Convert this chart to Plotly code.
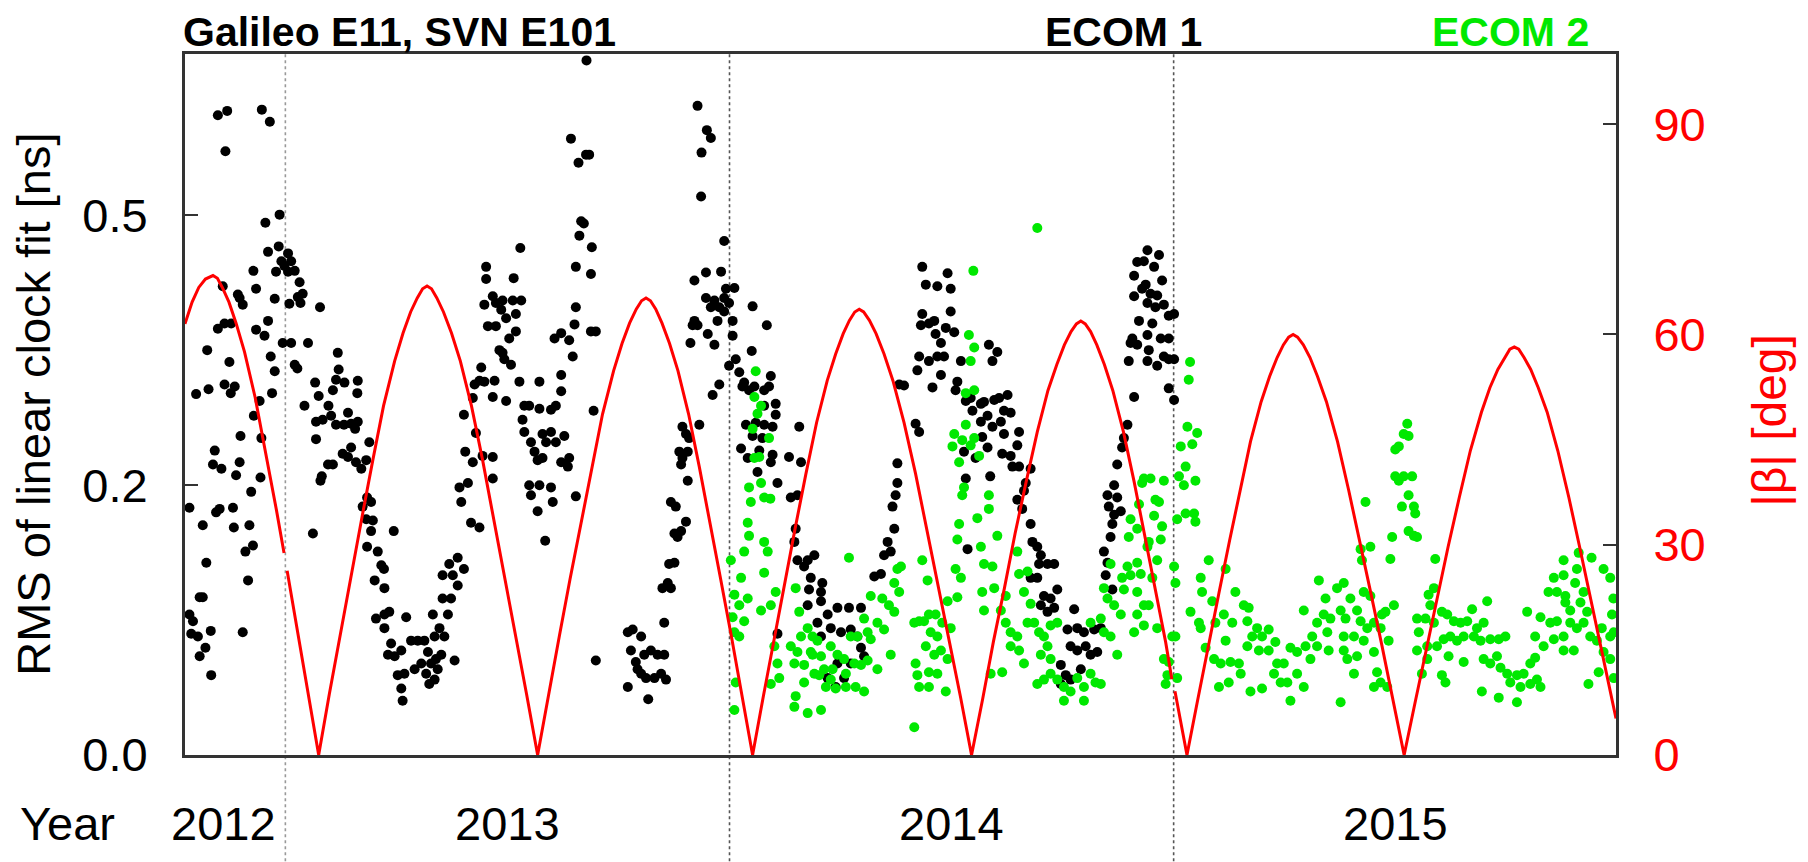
import plotly.graph_objects as go

# RMS of linear clock fit [ns] per day, ECOM 1 (black)
ecom1_pts = [
    (2012.848, 0.646), (2012.869, 0.653), (2012.865, 0.591), (2012.947, 0.655), (2012.965, 0.636),
    (2012.987, 0.501), (2012.955, 0.490), (2012.961, 0.452), (2012.985, 0.459), (2013.006, 0.450),
    (2012.991, 0.440), (2012.998, 0.434), (2013.013, 0.440), (2013.021, 0.428), (2013.006, 0.427),
    (2012.979, 0.427), (2012.928, 0.428), (2012.859, 0.409), (2012.934, 0.406), (2013.032, 0.414),
    (2013.039, 0.400), (2013.028, 0.396), (2013.034, 0.389), (2013.009, 0.388), (2012.893, 0.399),
    (2012.904, 0.387), (2012.897, 0.395), (2012.976, 0.394), (2013.078, 0.384), (2012.848, 0.359),
    (2012.863, 0.365), (2012.878, 0.365), (2012.934, 0.358), (2012.961, 0.368), (2012.953, 0.351),
    (2012.994, 0.343), (2013.013, 0.343), (2013.051, 0.343), (2012.824, 0.335), (2012.874, 0.322),
    (2012.967, 0.328), (2013.021, 0.319), (2013.027, 0.315), (2012.976, 0.312), (2012.799, 0.288),
    (2012.827, 0.293), (2012.863, 0.298), (2012.886, 0.296), (2012.877, 0.289), (2012.970, 0.289),
    (2012.942, 0.281), (2013.043, 0.276), (2013.067, 0.300), (2013.075, 0.286), (2013.118, 0.332),
    (2013.120, 0.314), (2013.114, 0.303), (2013.133, 0.300), (2013.107, 0.292), (2013.163, 0.302),
    (2013.162, 0.289), (2012.929, 0.266), (2013.097, 0.276), (2013.069, 0.260), (2013.084, 0.262),
    (2013.103, 0.266), (2013.114, 0.257), (2013.132, 0.257), (2013.148, 0.258), (2013.141, 0.269),
    (2013.163, 0.260), (2013.157, 0.253), (2013.069, 0.243), (2012.946, 0.244), (2012.899, 0.246),
    (2012.841, 0.232), (2012.837, 0.219), (2012.856, 0.215), (2012.897, 0.221), (2012.889, 0.209),
    (2012.944, 0.207), (2012.923, 0.194), (2013.082, 0.208), (2013.079, 0.204), (2013.096, 0.219),
    (2013.107, 0.219), (2013.148, 0.235), (2013.129, 0.229), (2013.141, 0.226), (2013.159, 0.221),
    (2013.171, 0.215), (2013.182, 0.223), (2013.189, 0.240), (2012.784, 0.180), (2012.844, 0.176),
    (2012.852, 0.179), (2012.882, 0.180), (2012.814, 0.165), (2012.884, 0.163), (2012.919, 0.165),
    (2012.910, 0.143), (2012.927, 0.148), (2012.822, 0.134), (2012.916, 0.120), (2013.062, 0.158),
    (2013.184, 0.189), (2013.174, 0.181), (2013.193, 0.185), (2013.182, 0.170), (2013.197, 0.169),
    (2013.193, 0.160), (2013.184, 0.147), (2013.208, 0.143), (2013.216, 0.132), (2013.222, 0.129),
    (2013.244, 0.160), (2013.201, 0.120), (2013.223, 0.114), (2012.807, 0.107), (2012.814, 0.107),
    (2012.784, 0.094), (2012.792, 0.089), (2012.788, 0.080), (2012.803, 0.078), (2012.820, 0.070),
    (2012.807, 0.064), (2012.832, 0.082), (2012.904, 0.081), (2012.833, 0.051), (2013.204, 0.091),
    (2013.223, 0.094), (2013.234, 0.096), (2013.223, 0.084), (2013.272, 0.092), (2013.238, 0.073),
    (2013.231, 0.065), (2013.246, 0.064), (2013.261, 0.068), (2013.283, 0.075), (2013.298, 0.075),
    (2013.253, 0.051), (2013.268, 0.052), (2013.291, 0.055), (2013.306, 0.059), (2013.261, 0.042),
    (2013.264, 0.034),
    (2013.313, 0.075), (2013.321, 0.067), (2013.328, 0.059), (2013.339, 0.062), (2013.317, 0.052),
    (2013.336, 0.048), (2013.324, 0.045), (2013.343, 0.055), (2013.351, 0.065), (2013.381, 0.061),
    (2013.332, 0.094), (2013.354, 0.106), (2013.373, 0.106), (2013.366, 0.094), (2013.347, 0.084),
    (2013.358, 0.078), (2013.336, 0.078), (2013.354, 0.124), (2013.369, 0.133), (2013.388, 0.138),
    (2013.402, 0.129), (2013.388, 0.116), (2013.377, 0.124), (2013.396, 0.185), (2013.392, 0.198),
    (2013.411, 0.202), (2013.418, 0.167), (2013.437, 0.163), (2013.405, 0.231), (2013.422, 0.221),
    (2013.444, 0.227), (2013.467, 0.226), (2013.467, 0.206), (2013.402, 0.267), (2013.429, 0.249),
    (2013.422, 0.284), (2013.426, 0.298), (2013.437, 0.302), (2013.448, 0.301), (2013.471, 0.302),
    (2013.467, 0.285), (2013.497, 0.281), (2013.441, 0.316), (2013.456, 0.362), (2013.474, 0.362),
    (2013.482, 0.335), (2013.493, 0.325), (2013.508, 0.319), (2013.489, 0.332), (2013.504, 0.348),
    (2013.519, 0.356), (2013.448, 0.387), (2013.467, 0.397), (2013.474, 0.389), (2013.486, 0.381),
    (2013.497, 0.371), (2013.512, 0.392), (2013.531, 0.392), (2013.519, 0.376), (2013.489, 0.392),
    (2013.452, 0.433), (2013.452, 0.418), (2013.514, 0.419), (2013.529, 0.457), (2013.527, 0.301),
    (2013.572, 0.301), (2013.538, 0.276), (2013.549, 0.276), (2013.572, 0.273), (2013.598, 0.272),
    (2013.609, 0.276), (2013.621, 0.291), (2013.621, 0.308), (2013.606, 0.348), (2013.621, 0.354),
    (2013.639, 0.346), (2013.534, 0.262), (2013.538, 0.250), (2013.553, 0.240), (2013.561, 0.231),
    (2013.579, 0.248), (2013.587, 0.240), (2013.598, 0.250), (2013.609, 0.240), (2013.628, 0.246),
    (2013.621, 0.221), (2013.636, 0.217), (2013.639, 0.225), (2013.568, 0.223), (2013.579, 0.225),
    (2013.549, 0.200), (2013.553, 0.191), (2013.572, 0.200), (2013.598, 0.198), (2013.602, 0.185),
    (2013.568, 0.177), (2013.654, 0.190), (2013.585, 0.152), (2013.647, 0.328), (2013.654, 0.384),
    (2013.651, 0.364), (2013.654, 0.433), (2013.688, 0.424), (2013.690, 0.458), (2013.662, 0.473),
    (2013.666, 0.492), (2013.672, 0.489), (2013.643, 0.610), (2013.677, 0.586), (2013.684, 0.586),
    (2013.660, 0.574), (2013.678, 0.736), (2013.688, 0.356), (2013.699, 0.356), (2013.694, 0.271),
    (2013.699, 0.061), (2013.771, 0.081), (2013.782, 0.083), (2013.801, 0.078), (2013.778, 0.068),
    (2013.789, 0.060), (2013.808, 0.065), (2013.823, 0.068), (2013.838, 0.065), (2013.771, 0.043),
    (2013.801, 0.052), (2013.812, 0.049), (2013.831, 0.049), (2013.846, 0.052), (2013.817, 0.035),
    (2013.793, 0.055), (2013.849, 0.114),
    (2013.853, 0.088), (2013.853, 0.065), (2013.857, 0.048), (2013.861, 0.118), (2013.868, 0.114),
    (2013.864, 0.133), (2013.876, 0.134), (2013.883, 0.155), (2013.876, 0.158), (2013.891, 0.160),
    (2013.902, 0.168), (2013.868, 0.185), (2013.879, 0.181), (2013.887, 0.231), (2013.894, 0.225),
    (2013.906, 0.231), (2013.891, 0.219), (2013.906, 0.204), (2013.894, 0.255), (2013.902, 0.248),
    (2013.909, 0.244), (2013.932, 0.257), (2013.962, 0.287), (2013.977, 0.298), (2013.912, 0.343),
    (2013.921, 0.368), (2013.928, 0.363), (2013.917, 0.363), (2013.951, 0.353), (2013.966, 0.341),
    (2013.973, 0.368), (2013.958, 0.384), (2013.977, 0.384), (2013.988, 0.379), (2013.999, 0.389),
    (2014.007, 0.368), (2014.007, 0.351), (2013.921, 0.416), (2013.947, 0.426), (2013.981, 0.427),
    (2013.992, 0.406), (2014.011, 0.407), (2013.947, 0.395), (2013.966, 0.392), (2013.988, 0.395),
    (2013.988, 0.466), (2013.928, 0.661), (2013.949, 0.623), (2013.958, 0.611), (2013.937, 0.589),
    (2013.936, 0.526), (2014.052, 0.385), (2014.084, 0.363), (2014.050, 0.334), (2013.999, 0.318),
    (2014.014, 0.325), (2014.022, 0.311), (2014.029, 0.296), (2014.033, 0.300), (2014.044, 0.292),
    (2014.056, 0.296), (2014.078, 0.292), (2014.089, 0.296), (2014.093, 0.307), (2014.104, 0.278),
    (2014.104, 0.267), (2014.078, 0.276), (2014.037, 0.257), (2014.059, 0.259), (2014.078, 0.257),
    (2014.097, 0.255), (2014.052, 0.246), (2014.074, 0.244), (2014.026, 0.234), (2014.041, 0.225),
    (2014.067, 0.232), (2014.097, 0.228), (2014.093, 0.221), (2014.063, 0.212), (2014.108, 0.202),
    (2014.134, 0.226), (2014.157, 0.255), (2014.161, 0.221), (2014.138, 0.189), (2014.153, 0.191),
    (2014.149, 0.162), (2014.146, 0.151), (2014.153, 0.136), (2014.176, 0.136), (2014.191, 0.140),
    (2014.168, 0.131), (2014.183, 0.122), (2014.209, 0.118), (2014.206, 0.111), (2014.179, 0.113),
    (2014.176, 0.101), (2014.206, 0.104), (2014.221, 0.094), (2014.198, 0.088), (2014.206, 0.078),
    (2014.243, 0.099), (2014.269, 0.099), (2014.296, 0.099), (2014.228, 0.084), (2014.251, 0.081),
    (2014.273, 0.083), (2014.288, 0.078), (2014.296, 0.070), (2014.303, 0.064), (2014.273, 0.059),
    (2014.243, 0.059), (2014.221, 0.049), (2014.239, 0.043), (2014.258, 0.049), (2014.108, 0.080),
    (2014.326, 0.123), (2014.341, 0.125), (2014.348, 0.140), (2014.363, 0.143), (2014.356, 0.151),
    (2014.371, 0.162), (2014.367, 0.181), (2014.374, 0.191), (2014.378, 0.202), (2014.378, 0.220),
    (2014.382, 0.298),
    (2014.393, 0.297), (2014.434, 0.433), (2014.442, 0.411), (2014.468, 0.409), (2014.491, 0.425),
    (2014.498, 0.406), (2014.498, 0.379), (2014.434, 0.376), (2014.431, 0.363), (2014.449, 0.365),
    (2014.461, 0.368), (2014.464, 0.353), (2014.476, 0.343), (2014.487, 0.360), (2014.506, 0.355),
    (2014.427, 0.328), (2014.449, 0.323), (2014.468, 0.328), (2014.483, 0.328), (2014.423, 0.313),
    (2014.457, 0.295), (2014.476, 0.308), (2014.513, 0.301), (2014.509, 0.292), (2014.521, 0.323),
    (2014.419, 0.258), (2014.427, 0.250), (2014.584, 0.341), (2014.603, 0.333), (2014.592, 0.323),
    (2014.532, 0.281), (2014.543, 0.284), (2014.566, 0.278), (2014.573, 0.280), (2014.547, 0.271),
    (2014.581, 0.266), (2014.596, 0.282), (2014.607, 0.284), (2014.626, 0.287), (2014.618, 0.271),
    (2014.633, 0.269), (2014.566, 0.260), (2014.592, 0.255), (2014.611, 0.260), (2014.618, 0.248),
    (2014.652, 0.250), (2014.569, 0.245), (2014.581, 0.235), (2014.554, 0.225), (2014.528, 0.231),
    (2014.614, 0.229), (2014.633, 0.227), (2014.648, 0.237), (2014.652, 0.217), (2014.637, 0.217),
    (2014.678, 0.215), (2014.667, 0.202), (2014.532, 0.206), (2014.587, 0.208), (2014.648, 0.187),
    (2014.663, 0.195), (2014.659, 0.179), (2014.536, 0.145), (2014.678, 0.166), (2014.682, 0.151),
    (2014.693, 0.147), (2014.701, 0.140), (2014.697, 0.133), (2014.716, 0.133), (2014.731, 0.133),
    (2014.678, 0.122), (2014.693, 0.122), (2014.708, 0.108), (2014.723, 0.106), (2014.738, 0.113),
    (2014.701, 0.101), (2014.716, 0.096), (2014.731, 0.099), (2014.776, 0.098), (2014.761, 0.083),
    (2014.783, 0.084), (2014.798, 0.081), (2014.821, 0.083), (2014.836, 0.084), (2014.768, 0.071),
    (2014.783, 0.068), (2014.802, 0.071), (2014.813, 0.065), (2014.828, 0.067), (2014.746, 0.058),
    (2014.757, 0.051), (2014.791, 0.055), (2014.746, 0.045), (2014.768, 0.048), (2014.843, 0.143),
    (2014.851, 0.134), (2014.858, 0.155), (2014.862, 0.166), (2014.866, 0.174), (2014.854, 0.181),
    (2014.866, 0.200), (2014.873, 0.189), (2014.881, 0.177), (2014.851, 0.191), (2014.873, 0.219),
    (2014.884, 0.235), (2014.888, 0.244), (2014.896, 0.257), (2014.847, 0.124), (2014.862, 0.113),
    (2014.911, 0.285), (2014.899, 0.323), (2014.903, 0.343), (2014.918, 0.341), (2014.907, 0.348),
    (2014.922, 0.368), (2014.911, 0.397), (2014.911, 0.422), (2014.929, 0.406), (2014.918, 0.439),
    (2014.941, 0.454), (2014.967, 0.448), (2014.933, 0.440), (2014.956, 0.433), (2014.974, 0.416),
    (2014.937, 0.411), (2014.948, 0.400), (2014.963, 0.398), (2014.941, 0.389), (2014.959, 0.384),
    (2014.978, 0.387), (2014.989, 0.374), (2015.001, 0.376), (2014.952, 0.365), (2014.941, 0.352),
    (2014.971, 0.348), (2014.989, 0.348), (2014.944, 0.335), (2014.978, 0.328), (2014.989, 0.325),
    (2015.001, 0.325), (2014.941, 0.323), (2014.963, 0.318), (2014.989, 0.294), (2015.001, 0.282),
]

# ECOM 2 (green)
ecom2_pts = [
    (2014.059, 0.312), (2014.056, 0.285), (2014.063, 0.268), (2014.052, 0.253), (2014.071, 0.276),
    (2014.089, 0.244), (2014.056, 0.225), (2014.067, 0.226), (2014.044, 0.198), (2014.048, 0.185),
    (2014.071, 0.202), (2014.078, 0.189), (2014.092, 0.188), (2014.041, 0.167), (2014.044, 0.156),
    (2014.033, 0.143), (2014.078, 0.151), (2014.086, 0.143), (2014.078, 0.126), (2014.003, 0.136),
    (2014.026, 0.122), (2014.011, 0.109), (2014.022, 0.101), (2014.041, 0.106), (2014.007, 0.092),
    (2014.033, 0.089), (2014.011, 0.081), (2014.022, 0.078), (2014.104, 0.111), (2014.093, 0.101),
    (2014.071, 0.097), (2014.014, 0.046), (2014.011, 0.028), (2014.101, 0.071), (2014.108, 0.059),
    (2014.112, 0.049), (2014.093, 0.045), (2014.149, 0.114), (2014.157, 0.096), (2014.138, 0.071),
    (2014.153, 0.067), (2014.146, 0.059), (2014.161, 0.078), (2014.176, 0.084), (2014.187, 0.078),
    (2014.168, 0.058), (2014.187, 0.065), (2014.198, 0.075), (2014.206, 0.064), (2014.213, 0.055),
    (2014.228, 0.071), (2014.243, 0.065), (2014.258, 0.062), (2014.232, 0.055), (2014.262, 0.052),
    (2014.273, 0.078), (2014.288, 0.078), (2014.281, 0.059), (2014.296, 0.058), (2014.311, 0.061),
    (2014.303, 0.040), (2014.284, 0.043), (2014.262, 0.043), (2014.239, 0.042), (2014.217, 0.043),
    (2014.202, 0.051), (2014.168, 0.046), (2014.149, 0.037), (2014.146, 0.030), (2014.176, 0.026),
    (2014.206, 0.028), (2014.333, 0.055), (2014.318, 0.076), (2014.333, 0.088), (2014.311, 0.081),
    (2014.303, 0.091), (2014.318, 0.108), (2014.344, 0.106), (2014.359, 0.101), (2014.371, 0.096),
    (2014.382, 0.111), (2014.371, 0.118), (2014.378, 0.129), (2014.386, 0.131), (2014.363, 0.065),
    (2014.348, 0.083), (2014.269, 0.138), (2014.183, 0.067), (2014.191, 0.052), (2014.228, 0.048),
    (2014.693, 0.483), (2014.549, 0.428), (2014.539, 0.352), (2014.551, 0.338), (2014.543, 0.323),
    (2014.532, 0.289), (2014.551, 0.292), (2014.532, 0.257), (2014.506, 0.248), (2014.502, 0.236),
    (2014.524, 0.242), (2014.543, 0.237), (2014.562, 0.227), (2014.517, 0.221), (2014.551, 0.244),
    (2014.528, 0.198), (2014.524, 0.191), (2014.584, 0.191), (2014.558, 0.171), (2014.584, 0.179),
    (2014.517, 0.166), (2014.513, 0.153), (2014.566, 0.147), (2014.603, 0.156), (2014.434, 0.136),
    (2014.446, 0.120), (2014.509, 0.129), (2014.521, 0.122), (2014.491, 0.104), (2014.513, 0.107),
    (2014.573, 0.133), (2014.592, 0.131), (2014.569, 0.111), (2014.573, 0.097), (2014.596, 0.114),
    (2014.622, 0.108), (2014.611, 0.097), (2014.648, 0.143), (2014.652, 0.125), (2014.671, 0.127),
    (2014.663, 0.111), (2014.678, 0.102), (2014.416, 0.088), (2014.427, 0.089), (2014.438, 0.089),
    (2014.449, 0.094), (2014.464, 0.094), (2014.479, 0.088), (2014.498, 0.084), (2014.453, 0.081),
    (2014.468, 0.078), (2014.442, 0.071), (2014.461, 0.065), (2014.476, 0.068), (2014.491, 0.062),
    (2014.449, 0.053), (2014.468, 0.052), (2014.423, 0.051), (2014.427, 0.043), (2014.449, 0.043),
    (2014.487, 0.040), (2014.419, 0.059), (2014.416, 0.017), (2014.588, 0.052), (2014.614, 0.053),
    (2014.622, 0.088), (2014.633, 0.081), (2014.648, 0.078), (2014.633, 0.071), (2014.652, 0.068),
    (2014.663, 0.059), (2014.671, 0.088), (2014.686, 0.088), (2014.697, 0.081), (2014.708, 0.078),
    (2014.723, 0.086), (2014.738, 0.088), (2014.716, 0.071), (2014.701, 0.065), (2014.723, 0.062),
    (2014.693, 0.045), (2014.708, 0.048), (2014.723, 0.052), (2014.738, 0.048), (2014.753, 0.043),
    (2014.768, 0.040), (2014.783, 0.049), (2014.798, 0.043), (2014.813, 0.052), (2014.824, 0.046),
    (2014.836, 0.045), (2014.753, 0.034), (2014.798, 0.034), (2014.813, 0.088), (2014.836, 0.091),
    (2014.843, 0.081), (2014.858, 0.078), (2014.873, 0.065), (2014.843, 0.114), (2014.851, 0.106),
    (2014.866, 0.101), (2014.881, 0.094), (2014.888, 0.113), (2014.918, 0.111), (2014.911, 0.081),
    (2014.918, 0.094), (2014.926, 0.125), (2014.903, 0.124), (2014.918, 0.134), (2014.896, 0.131),
    (2014.899, 0.155), (2014.903, 0.170), (2014.918, 0.162), (2014.929, 0.202), (2014.922, 0.183),
    (2014.884, 0.122), (2014.858, 0.133),
    (2015.037, 0.322), (2015.034, 0.303), (2015.031, 0.255), (2015.053, 0.249), (2015.016, 0.236),
    (2015.042, 0.238), (2015.027, 0.217), (2015.012, 0.208), (2015.023, 0.200), (2015.049, 0.204),
    (2015.008, 0.170), (2015.027, 0.175), (2015.046, 0.175), (2015.049, 0.168), (2014.933, 0.206),
    (2014.948, 0.206), (2014.978, 0.204), (2014.959, 0.187), (2014.967, 0.185), (2014.956, 0.173),
    (2014.974, 0.164), (2014.944, 0.151), (2014.971, 0.153), (2014.963, 0.136), (2014.952, 0.122),
    (2014.941, 0.147), (2015.001, 0.131), (2015.004, 0.118), (2014.933, 0.101), (2014.944, 0.101),
    (2014.933, 0.086), (2014.963, 0.084), (2014.997, 0.078), (2015.004, 0.078), (2014.978, 0.062),
    (2014.989, 0.060), (2014.986, 0.051), (2014.982, 0.045), (2015.008, 0.049), (2015.061, 0.122),
    (2015.064, 0.111), (2015.079, 0.136), (2015.117, 0.129), (2015.038, 0.096), (2015.057, 0.088),
    (2015.061, 0.084), (2015.087, 0.104), (2015.094, 0.088), (2015.072, 0.070), (2015.091, 0.062),
    (2015.113, 0.094), (2015.132, 0.088), (2015.139, 0.111), (2015.158, 0.101), (2015.169, 0.099),
    (2015.166, 0.089), (2015.117, 0.075), (2015.106, 0.059), (2015.128, 0.060), (2015.147, 0.059),
    (2015.151, 0.052), (2015.102, 0.043), (2015.124, 0.046), (2015.173, 0.040), (2015.199, 0.042),
    (2015.177, 0.078), (2015.188, 0.084), (2015.199, 0.078), (2015.214, 0.083), (2015.192, 0.068),
    (2015.214, 0.068), (2015.166, 0.071), (2015.229, 0.074), (2015.233, 0.059), (2015.248, 0.059),
    (2015.263, 0.070), (2015.278, 0.067), (2015.297, 0.071), (2015.312, 0.078), (2015.323, 0.071),
    (2015.308, 0.062), (2015.256, 0.046), (2015.278, 0.052), (2015.293, 0.043), (2015.263, 0.034),
    (2015.226, 0.052), (2015.241, 0.046), (2015.293, 0.097), (2015.327, 0.120), (2015.342, 0.106),
    (2015.368, 0.114), (2015.383, 0.118), (2015.398, 0.106), (2015.428, 0.111), (2015.443, 0.108),
    (2015.413, 0.097), (2015.338, 0.094), (2015.353, 0.091), (2015.376, 0.097), (2015.387, 0.091),
    (2015.421, 0.089), (2015.436, 0.084), (2015.451, 0.088), (2015.323, 0.088), (2015.346, 0.081),
    (2015.383, 0.078), (2015.406, 0.078), (2015.428, 0.075), (2015.451, 0.067), (2015.466, 0.084),
    (2015.469, 0.094), (2015.383, 0.068), (2015.413, 0.064), (2015.406, 0.052), (2015.458, 0.053),
    (2015.451, 0.043), (2015.466, 0.046), (2015.376, 0.033), (2015.432, 0.185), (2015.421, 0.145),
    (2015.443, 0.147), (2015.424, 0.136), (2015.349, 0.068), (2015.391, 0.062),
    (2015.526, 0.258), (2015.518, 0.248), (2015.529, 0.246), (2015.507, 0.236), (2015.499, 0.233),
    (2015.499, 0.208), (2015.507, 0.204), (2015.518, 0.208), (2015.537, 0.208), (2015.529, 0.191),
    (2015.514, 0.181), (2015.541, 0.181), (2015.544, 0.175), (2015.529, 0.160), (2015.541, 0.156),
    (2015.492, 0.155), (2015.488, 0.137), (2015.548, 0.155), (2015.589, 0.137), (2015.586, 0.114),
    (2015.574, 0.109), (2015.578, 0.101), (2015.477, 0.096), (2015.496, 0.101), (2015.548, 0.091),
    (2015.567, 0.091), (2015.552, 0.081), (2015.586, 0.088), (2015.604, 0.096), (2015.616, 0.094),
    (2015.631, 0.089), (2015.646, 0.088), (2015.672, 0.098), (2015.661, 0.089), (2015.683, 0.084),
    (2015.698, 0.088), (2015.706, 0.104), (2015.608, 0.076), (2015.623, 0.078), (2015.638, 0.075),
    (2015.653, 0.078), (2015.676, 0.078), (2015.691, 0.075), (2015.713, 0.076), (2015.732, 0.076),
    (2015.747, 0.078), (2015.571, 0.071), (2015.593, 0.071), (2015.548, 0.068), (2015.571, 0.062),
    (2015.619, 0.064), (2015.653, 0.060), (2015.698, 0.062), (2015.713, 0.059), (2015.728, 0.064),
    (2015.736, 0.056), (2015.751, 0.052), (2015.773, 0.051), (2015.788, 0.052), (2015.758, 0.046),
    (2015.781, 0.043), (2015.803, 0.045), (2015.818, 0.048), (2015.826, 0.043), (2015.773, 0.033),
    (2015.732, 0.036), (2015.694, 0.040), (2015.604, 0.051), (2015.612, 0.046), (2015.559, 0.052),
    (2015.484, 0.075), (2015.481, 0.043), (2015.796, 0.096), (2015.826, 0.092), (2015.848, 0.088),
    (2015.863, 0.089), (2015.814, 0.078), (2015.833, 0.071), (2015.856, 0.076), (2015.878, 0.078),
    (2015.893, 0.088), (2015.908, 0.084), (2015.923, 0.088), (2015.938, 0.078), (2015.953, 0.075),
    (2015.964, 0.084), (2015.983, 0.078), (2015.991, 0.081), (2015.968, 0.067), (2015.983, 0.062),
    (2015.957, 0.053), (2015.934, 0.045), (2015.991, 0.049), (2015.878, 0.068), (2015.901, 0.068),
    (2015.844, 0.111), (2015.856, 0.122), (2015.863, 0.111), (2015.878, 0.124), (2015.882, 0.108),
    (2015.882, 0.103), (2015.908, 0.129), (2015.904, 0.118), (2015.923, 0.111), (2015.931, 0.096),
    (2015.893, 0.097), (2015.916, 0.103), (2015.878, 0.136), (2015.912, 0.142), (2015.941, 0.138),
    (2015.968, 0.129), (2015.983, 0.122), (2015.990, 0.106), (2015.987, 0.094), (2015.814, 0.063),
    (2015.803, 0.059),
]

# |beta| angle [deg]; None marks the two small data gaps
beta_pts = [
    (2012.774, 61.5), (2012.790, 64.6), (2012.805, 66.7), (2012.820, 67.9), (2012.837, 68.4),
    (2012.847, 68.0), (2012.858, 66.7), (2012.873, 64.6), (2012.889, 61.6), (2012.908, 57.5),
    (2012.932, 51.0), (2012.956, 43.1), (2012.980, 34.9), (2012.997, 28.8), (None, None),
    (2013.004, 26.3), (2013.027, 17.8), (2013.051, 8.9), (2013.075, 0.0),
    (2013.099, 8.7), (2013.124, 17.4), (2013.148, 25.8), (2013.173, 34.1), (2013.197, 42.1),
    (2013.221, 49.8), (2013.246, 56.2), (2013.265, 60.2), (2013.282, 63.2), (2013.297, 65.2),
    (2013.309, 66.5), (2013.319, 66.9),
    (2013.329, 66.5), (2013.341, 65.2), (2013.356, 63.2), (2013.374, 60.2), (2013.394, 56.2),
    (2013.419, 49.8), (2013.444, 42.1), (2013.468, 34.1), (2013.493, 25.8), (2013.518, 17.4),
    (2013.543, 8.7), (2013.568, 0.0),
    (2013.592, 8.5), (2013.617, 17.0), (2013.641, 25.1), (2013.666, 33.3), (2013.690, 41.1),
    (2013.714, 48.6), (2013.739, 54.8), (2013.758, 58.7), (2013.775, 61.6), (2013.790, 63.6),
    (2013.802, 64.8), (2013.812, 65.2),
    (2013.822, 64.8), (2013.834, 63.6), (2013.848, 61.6), (2013.865, 58.7), (2013.884, 54.8),
    (2013.908, 48.6), (2013.932, 41.1), (2013.956, 33.3), (2013.980, 25.1), (2014.004, 17.0),
    (2014.028, 8.5), (2014.052, 0.0),
    (2014.076, 8.3), (2014.100, 16.5), (2014.124, 24.5), (2014.148, 32.4), (2014.172, 40.1),
    (2014.196, 47.4), (2014.220, 53.4), (2014.239, 57.2), (2014.256, 60.1), (2014.270, 62.0),
    (2014.282, 63.2), (2014.292, 63.6),
    (2014.302, 63.2), (2014.315, 62.0), (2014.330, 60.1), (2014.348, 57.2), (2014.368, 53.4),
    (2014.393, 47.4), (2014.419, 40.1), (2014.444, 32.4), (2014.469, 24.5), (2014.494, 16.5),
    (2014.520, 8.3), (2014.545, 0.0),
    (2014.570, 8.0), (2014.594, 16.1), (2014.619, 23.8), (2014.643, 31.6), (2014.668, 39.0),
    (2014.693, 46.1), (2014.717, 52.0), (2014.737, 55.7), (2014.754, 58.5), (2014.769, 60.4),
    (2014.781, 61.5), (2014.791, 61.9),
    (2014.801, 61.5), (2014.813, 60.4), (2014.827, 58.5), (2014.844, 55.7), (2014.863, 52.0),
    (2014.887, 46.1), (2014.911, 39.0), (2014.934, 31.6), (2014.958, 23.8), (2014.982, 16.1),
    (2014.996, 10.8), (None, None), (2015.003, 9.1), (2015.030, 0.0),
    (2015.054, 7.8), (2015.078, 15.6), (2015.102, 23.1), (2015.126, 30.6), (2015.150, 37.8),
    (2015.173, 44.7), (2015.197, 50.4), (2015.216, 54.0), (2015.233, 56.7), (2015.247, 58.5),
    (2015.259, 59.6), (2015.269, 60.0),
    (2015.279, 59.6), (2015.292, 58.5), (2015.307, 56.7), (2015.324, 54.0), (2015.344, 50.4),
    (2015.369, 44.7), (2015.394, 37.8), (2015.419, 30.6), (2015.444, 23.1), (2015.469, 15.6),
    (2015.494, 7.8), (2015.519, 0.0),
    (2015.544, 7.6), (2015.569, 15.1), (2015.593, 22.4), (2015.618, 29.7), (2015.643, 36.7),
    (2015.668, 43.4), (2015.693, 48.9), (2015.712, 52.4), (2015.730, 55.0), (2015.745, 56.7),
    (2015.757, 57.9), (2015.767, 58.2),
    (2015.777, 57.9), (2015.789, 56.7), (2015.804, 55.0), (2015.821, 52.4), (2015.841, 48.9),
    (2015.865, 43.4), (2015.890, 36.7), (2015.914, 29.7), (2015.939, 22.4), (2015.963, 15.1),
    (2015.996, 5.2),
]

rms_ticks = [0.0, 0.2, 0.5]
beta_ticks = [0, 30, 60, 90]
year_bounds = [2013, 2014, 2015]
year_labels = ["2012", "2013", "2014", "2015"]
year_label_pos = [2012.861, 2013.5, 2014.5, 2015.5]

# RMS axis is logarithmic in (rms + 0.4 ns)
OFFSET = 0.4
FONT = "Liberation Sans, Arial, sans-serif"
GREEN = "#00e800"
FS = 47

e1_year, e1_rms = zip(*ecom1_pts)
e2_year, e2_rms = zip(*ecom2_pts)
beta_year, beta_deg = zip(*beta_pts)

fig = go.Figure()
fig.add_trace(go.Scatter(
    x=e1_year, y=[v + OFFSET for v in e1_rms], mode="markers",
    marker=dict(color="black", size=10), name="ECOM 1"))
fig.add_trace(go.Scatter(
    x=e2_year, y=[v + OFFSET for v in e2_rms], mode="markers",
    marker=dict(color=GREEN, size=10), name="ECOM 2"))
fig.add_trace(go.Scatter(
    x=beta_year, y=beta_deg, mode="lines", yaxis="y2",
    line=dict(color="red", width=3), connectgaps=False, name="|beta|"))

# year boundaries, running down through the year labels
for yb in year_bounds:
    fig.add_shape(type="line", xref="x", yref="paper", x0=yb, x1=yb, y0=-0.16, y1=1,
                  line=dict(color="#999999" if yb == 2013 else "#555555", width=1.6, dash="dot"),
                  layer="below")

# the page body adds 8px on top/left, so margins are shifted to compensate
fig.update_layout(
    width=1808, height=862,
    margin=dict(l=177, r=200, t=46, b=115),
    paper_bgcolor="white", plot_bgcolor="white",
    showlegend=False,
    font=dict(family=FONT, color="black", size=FS),
    xaxis=dict(range=[2012.774, 2015.996], showgrid=False, zeroline=False,
               showticklabels=False, ticks="", showline=True, mirror=True,
               linecolor="#333333", linewidth=3),
    yaxis=dict(type="log", range=[-0.39794, 0.05956], showgrid=False, zeroline=False,
               tickvals=[v + OFFSET for v in rms_ticks],
               ticktext=["%.1f" % v for v in rms_ticks],
               ticks="inside", ticklen=13, tickwidth=2, tickcolor="#333333",
               showline=True, linecolor="#333333", linewidth=3,
               tickfont=dict(size=FS, color="black"), ticklabelstandoff=25),
    yaxis2=dict(overlaying="y", side="right", range=[0, 100], showgrid=False, zeroline=False,
                tickvals=beta_ticks, ticks="inside", ticklen=13, tickwidth=2,
                tickcolor="#333333", showline=True, linecolor="#333333", linewidth=3,
                tickfont=dict(size=FS, color="red"), ticklabelstandoff=25),
)

ann = [
    dict(text="<b>Galileo E11, SVN E101</b>", x=-0.003, y=1.032, xanchor="left",
         font=dict(size=41, color="black")),
    dict(text="<b>ECOM 1</b>", x=0.656, y=1.032, xanchor="center", font=dict(size=41, color="black")),
    dict(text="<b>ECOM 2</b>", x=0.926, y=1.032, xanchor="center", font=dict(size=41, color=GREEN)),
    dict(text="RMS of linear clock fit [ns]", x=-0.106, y=0.5, textangle=-90,
         xanchor="center", font=dict(size=FS, color="black")),
    dict(text="|β| [deg]", x=1.1075, y=0.478, textangle=-90,
         xanchor="center", font=dict(size=48, color="red")),
    dict(text="Year", x=-0.082, y=-0.098, xanchor="center", font=dict(size=FS, color="black")),
]
for a in ann:
    fig.add_annotation(xref="paper", yref="paper", showarrow=False, yanchor="middle", **a)

for lbl, pos in zip(year_labels, year_label_pos):
    fig.add_annotation(text=lbl, x=pos, xref="x", y=-0.098, yref="paper", showarrow=False,
                       xanchor="center", yanchor="middle", font=dict(size=FS, color="black"))

fig.write_html("out.html")
